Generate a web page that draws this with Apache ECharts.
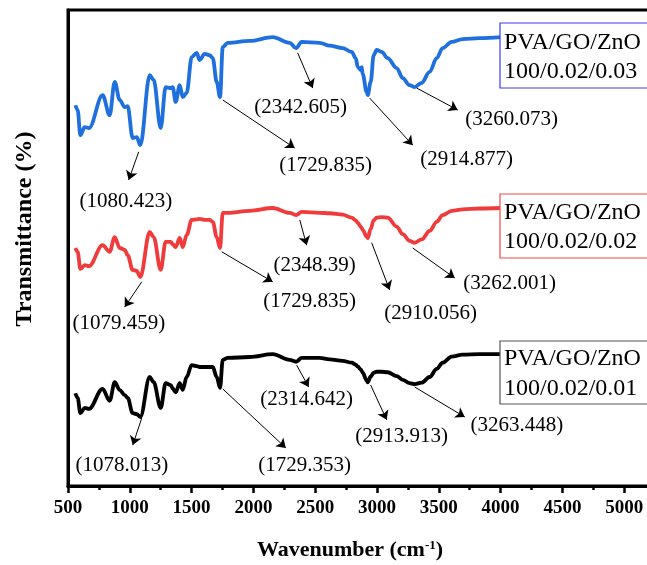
<!DOCTYPE html>
<html><head><meta charset="utf-8">
<script src="https://cdn.jsdelivr.net/npm/echarts@6/dist/echarts.min.js"></script>
<style>html,body{margin:0;padding:0;background:#fff}#c{width:647px;height:565px}</style>
</head><body><div id="c"></div>
<script>
// ---- data ----
const wavenumbers = [560, 578, 600, 635, 670, 780, 837, 878, 918, 959, 983, 1023, 1056, 1085, 1161, 1193, 1250, 1290, 1331, 1347, 1371, 1404, 1428, 1460, 1501, 1541, 1565, 1606, 1646, 1671, 1703, 1730, 1752, 1792, 1970, 2156, 2294, 2345, 2391,
  2536, 2617, 2722, 2795, 2828, 2844, 2868, 2876, 2884, 2916, 2925, 2949, 2973, 2997, 3038, 3086, 3159, 3208, 3264, 3305, 3361, 3426, 3483, 3531, 3604, 3693, 3831, 4000];
const trans003 = [80.0, 79.0, 73.7, 75.4, 75.2, 82.1, 77.9, 84.9, 81.1, 79.6, 79.8, 73.1, 73.3, 71.6, 86.3, 85.3, 75.2, 83.8, 83.6, 83.8, 80.7, 84.2, 81.7, 82.6, 90.1, 91.0, 89.5, 90.8, 90.5, 89.9, 84.9, 81.7, 92.2, 93.1, 93.5, 94.3, 93.1, 92.0, 93.3,
  93.1, 92.5, 92.0, 91.2, 89.9, 88.0, 87.4, 88.0, 86.6, 82.8, 82.1, 84.9, 90.5, 91.6, 91.2, 89.9, 87.8, 85.7, 84.2, 83.8, 84.7, 87.0, 89.9, 92.0, 93.3, 93.9, 94.1, 94.3];
const trans002 = [50.0, 49.2, 45.6, 46.4, 46.2, 50.6, 49.2, 52.3, 50.0, 49.6, 48.5, 45.4, 45.2, 43.9, 53.4, 52.3, 45.4, 51.3, 51.3, 50.8, 50.2, 52.1, 50.2, 52.7, 55.9, 56.0, 56.1, 55.9, 55.9, 55.5, 52.3, 50.0, 57.4, 57.4, 57.8, 58.4, 57.4, 56.9, 57.6,
  57.4, 57.3, 57.0, 56.4, 55.8, 55.3, 54.5, 54.2, 53.8, 52.4, 52.1, 54.0, 55.8, 56.4, 56.5, 56.4, 54.5, 52.9, 51.5, 51.1, 51.8, 53.6, 55.5, 56.9, 57.8, 58.1, 58.3, 58.4];
const trans001 = [19.5, 18.5, 15.3, 16.4, 16.2, 20.4, 17.9, 21.8, 20.2, 19.1, 18.5, 15.3, 15.1, 14.5, 22.9, 21.8, 16.4, 21.6, 21.2, 20.5, 19.7, 21.6, 20.2, 22.9, 25.4, 25.2, 25.0, 25.0, 25.0, 25.0, 22.9, 20.6, 26.5, 26.9, 27.1, 27.7, 26.5, 26.1, 26.9,
  26.9, 26.6, 26.3, 25.9, 25.5, 25.1, 24.5, 24.2, 23.8, 22.2, 21.8, 23.0, 23.8, 24.0, 24.0, 23.9, 23.1, 22.3, 21.6, 21.4, 21.7, 22.9, 24.6, 25.9, 27.2, 27.6, 27.7, 27.7];
const seriesNames = ['PVA/GO/ZnO 100/0.02/0.03', 'PVA/GO/ZnO 100/0.02/0.02', 'PVA/GO/ZnO 100/0.02/0.01'];
const legendLine1 = 'PVA/GO/ZnO';
const legendLine2 = ['100/0.02/0.03', '100/0.02/0.02', '100/0.02/0.01'];
const peaks003 = ['1080.423', '2342.605', '1729.835', '2914.877', '3260.073'];
const peaks002 = ['1079.459', '2348.39', '1729.835', '2910.056', '3262.001'];
const peaks001 = ['1078.013', '2314.642', '1729.353', '2913.913', '3263.448'];
const xTickLabels = ['500','1000','1500','2000','2500','3000','3500','4000','4500','5000'];

// ---- layout (annotation placement in data coordinates) ----
const annot003 = [
  {from:[1072,70.2], to:[991,64.3], label:[968,59.7]},
  {from:[2358,91.0], to:[2480,83.6], label:[2383,79.6]},
  {from:[1752,81.1], to:[2334,71.0], label:[2585,67.4]},
  {from:[2941,81.5], to:[3289,71.6], label:[3725,68.5]},
  {from:[3321,83.6], to:[3653,79.0], label:[4090,76.9]}
];
const annot002 = [
  {from:[1097,42.9], to:[959,37.6], label:[911,34.2]},
  {from:[2375,55.9], to:[2431,50.6], label:[2495,46.4]},
  {from:[1744,49.2], to:[2156,42.9], label:[2455,38.7]},
  {from:[2957,51.1], to:[3102,41.2], label:[3434,36.3]},
  {from:[3289,50.0], to:[3629,43.7], label:[4073,42.6]}
];
const annot001 = [
  {from:[1097,14.3], to:[1024,8.6], label:[935,4.4]},
  {from:[2350,25.4], to:[2447,20.8], label:[2431,18.1]},
  {from:[1752,20.4], to:[2262,8.0], label:[2415,4.4]},
  {from:[2949,21.2], to:[3078,13.9], label:[3200,10.5]},
  {from:[3305,20.8], to:[3710,14.5], label:[4131,12.8]}
];

const FONT = '"Liberation Serif", "Times New Roman", serif';
const colors = ['#1f6fdc', '#ef3b3b', '#000000'];
const allVals = [trans003, trans002, trans001];
const allAnnot = [annot003, annot002, annot001];
const allPeaks = [peaks003, peaks002, peaks001];

const series = [];
allVals.forEach((vals, i) => {
  series.push({
    type: 'line',
    name: seriesNames[i],
    data: wavenumbers.map((w, k) => [w, vals[k]]),
    showSymbol: false,
    smooth: 0.35,
    smoothMonotone: 'x',
    lineStyle: {color: colors[i], width: 3.8},
    itemStyle: {color: colors[i]},
    z: 3,
    markLine: {
      silent: true,
      symbol: ['none', 'arrow'],
      symbolSize: 9,
      label: {show: false},
      lineStyle: {color: '#000', width: 1, type: 'solid'},
      data: allAnnot[i].map(a => [{coord: a.from}, {coord: a.to}])
    }
  });
});

const chart = echarts.init(document.getElementById('c'), null, {renderer: 'canvas'});
chart.setOption({
  animation: false,
  backgroundColor: '#fff',
  grid: {left: 68, right: -39, top: 10, bottom: 79, containLabel: false, outerBoundsMode: 'none',
    show: true, borderColor: '#000', borderWidth: 3, backgroundColor: 'transparent'},
  xAxis: {
    type: 'value', min: 500, max: 5500, interval: 500,
    axisLine: {show: true, onZero: false, lineStyle: {color: '#000', width: 3}},
    axisTick: {show: true, inside: false, length: 7, lineStyle: {color: '#000', width: 2.5}},
    minorTick: {show: true, splitNumber: 2, length: 4, lineStyle: {color: '#000', width: 2.5}},
    splitLine: {show: false},
    axisLabel: {color: '#000', fontFamily: FONT, fontWeight: 'bold', fontSize: 19, margin: 13,
      formatter: v => xTickLabels.includes(String(v)) ? String(v) : ''}
  },
  yAxis: {
    type: 'value', min: 0, max: 100,
    axisLine: {show: true, lineStyle: {color: '#000', width: 3}},
    axisTick: {show: false}, axisLabel: {show: false}, splitLine: {show: false}
  },
  series: series
});

// ---- graphic overlays: peak labels, legend boxes, axis titles ----
const graphic = [];
allAnnot.forEach((list, i) => {
  list.forEach((a, k) => {
    const p = chart.convertToPixel({gridIndex: 0}, a.label);
    graphic.push({type: 'text', x: p[0], y: p[1], silent: true,
      style: {text: '(' + allPeaks[i][k] + ')', font: '21px ' + FONT, fill: '#000', textAlign: 'center', textVerticalAlign: 'middle'}, z: 12});
  });
});
const boxes = [
  {y: 23, h: 65, stroke: '#3b3bf0', l1: 43, l2: 72},
  {y: 194, h: 64, stroke: '#f04848', l1: 213, l2: 242},
  {y: 341, h: 63, stroke: '#555555', l1: 359, l2: 389}
];
boxes.forEach((b, i) => {
  graphic.push({type: 'rect', shape: {x: 500, y: b.y, width: 200, height: b.h}, style: {fill: '#fff', stroke: b.stroke, lineWidth: 1.2}, z: 10});
  graphic.push({type: 'text', x: 504, y: b.l1, style: {text: legendLine1, font: '24px ' + FONT, fill: '#000', textVerticalAlign: 'middle'}, z: 11});
  graphic.push({type: 'text', x: 504, y: b.l2, style: {text: legendLine2[i], font: '24px ' + FONT, fill: '#000', textVerticalAlign: 'middle'}, z: 11});
});
graphic.push({type: 'text', x: 25, y: 229, rotation: Math.PI / 2,
  style: {text: 'Transmittance (%)', font: 'bold 24px ' + FONT, fill: '#000', textAlign: 'center', textVerticalAlign: 'middle'}});
graphic.push({type: 'text', x: 350, y: 550,
  style: {text: '{a|Wavenumber (cm}{s|-1}{a|)}', textAlign: 'center', textVerticalAlign: 'middle',
    rich: {a: {fontFamily: FONT, fontWeight: 'bold', fontSize: 22, fill: '#000', color: '#000'},
           s: {fontFamily: FONT, fontWeight: 'bold', fontSize: 13, fill: '#000', color: '#000', verticalAlign: 'top'}}}});
chart.setOption({graphic: graphic});
</script></body></html>
